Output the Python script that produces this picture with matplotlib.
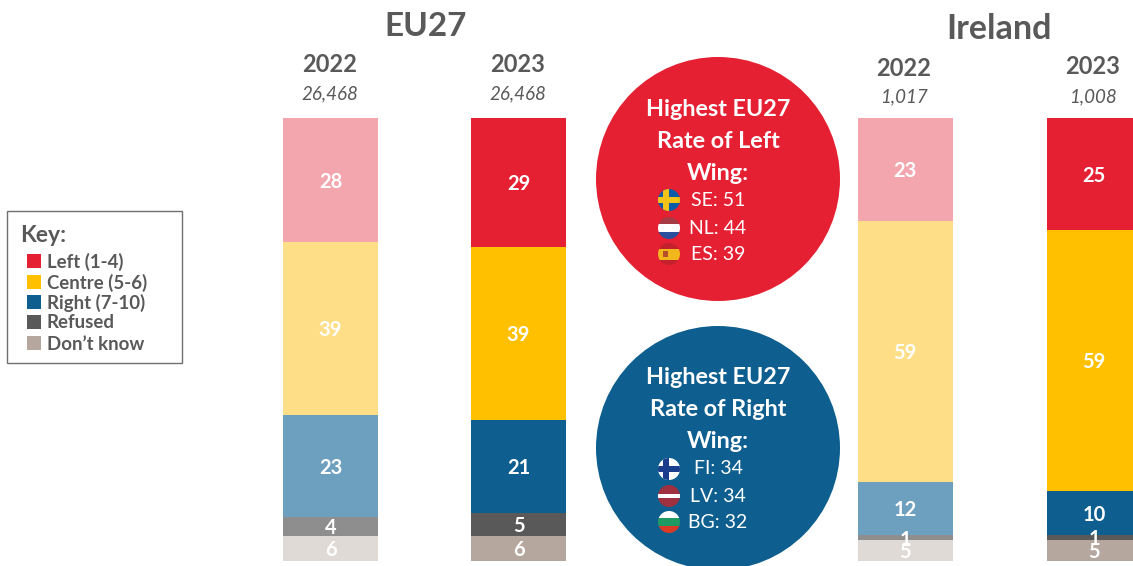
import matplotlib
matplotlib.use('Agg')
from matplotlib import pyplot as plt
from matplotlib.patches import Circle, Rectangle

plt.rcParams['font.family'] = ['Lato', 'DejaVu Sans']

## Data (labels show the rounded value)
groups = ['2022', '2023', '2022', '2023']
bases = ['26,468', '26,468', '1,017', '1,008']
categories = ['Left (1-4)', 'Centre (5-6)', 'Right (7-10)', 'Refused', 'Don\u2019t know']
left = [28.0, 29.1, 23.3, 25.3]
centre = [39.0, 39.0, 58.9, 58.9]
right = [23.0, 21.0, 12.0, 9.9]
refused = [4.4, 5.2, 1.1, 1.1]
dont_know = [5.6, 5.7, 4.7, 4.8]
left_top = ['SE: 51', 'NL: 44', 'ES: 39']
right_top = ['FI: 34', 'LV: 34', 'BG: 32']

solid = ['#E52032', '#FFC000', '#0E5F8F', '#595959', '#B5A69E']
pale = ['#F4A6AE', '#FEDE86', '#6D9FBF', '#8E8E8E', '#DFDAD6']
grey = '#595959'

W, H = 1133, 566
fig = plt.figure(figsize=(W / 100, H / 100), dpi=100)

# overlay in pixel coords for the circles, key and headings
ov = fig.add_axes([0, 0, 1, 1])
ov.set_xlim(0, W)
ov.set_ylim(H, 0)
ov.axis('off')

# bar axes, 0-100 between y=118 and y=561
ax = fig.add_axes([0, (H - 561) / H, 1, 443 / H])
ax.set_xlim(0, W)
ax.set_ylim(100, 0)
ax.axis('off')
ax.patch.set_alpha(0)

## Stacked bars
bar_x = [330.5, 518.5, 905, 1094]
series = [left, centre, right, refused, dont_know]
for i, x in enumerate(bar_x):
    bottom = 0
    colours = pale if i % 2 == 0 else solid
    for s, vals in enumerate(series):
        ax.bar(x, vals[i], 95, bottom=bottom, color=colours[s], linewidth=0)
        ax.text(x, bottom + vals[i] / 2 + 0.4, f'{vals[i]:.0f}', color='white', fontsize=14.5,
                fontweight='bold', ha='center', va='center')
        bottom += vals[i]

## Headings
ov.text(426, 27, 'EU27', color=grey, fontsize=24, fontweight='bold', ha='center', va='center')
ov.text(999, 29, 'Ireland', color=grey, fontsize=24.5, fontweight='bold', ha='center', va='center')
year_y = [64, 65, 68, 67]
base_y = [94, 94, 97, 97]
for i, x in enumerate(bar_x):
    ov.text(x - 1, year_y[i], groups[i], color=grey, fontsize=17, fontweight='bold', ha='center', va='center')
    ov.text(x - 1, base_y[i], bases[i], color=grey, fontsize=13.5, fontstyle='italic', ha='center', va='center')

## Key
ov.add_patch(Rectangle((7, 211), 175, 152, facecolor='white', edgecolor='#6F6F6F', linewidth=1))
ov.text(20, 236, 'Key:', color=grey, fontsize=16.5, fontweight='bold', ha='left', va='center')
key_y = [262, 283, 303, 323, 344]
for lab, c, y in zip(categories, solid, key_y):
    ov.add_patch(Rectangle((27, y - 8), 14, 14, facecolor=c, edgecolor='none'))
    ov.text(47, y, lab, color=grey, fontsize=13.4, fontweight='bold', ha='left', va='center')


def flag(cx, cy, stripes=None, cross=None):
    # round flag: stripes clipped to a circle
    r = 11
    clip = Circle((cx, cy), r, transform=ov.transData)
    parts = []
    if stripes:
        y = cy - r
        for c, frac in stripes:
            parts.append(Rectangle((cx - r, y), 2 * r, 2 * r * frac, facecolor=c, edgecolor='none', zorder=4))
            y += 2 * r * frac
    if cross:
        bg, fg = cross
        parts.append(Rectangle((cx - r, cy - r), 2 * r, 2 * r, facecolor=bg, edgecolor='none', zorder=4))
        parts.append(Rectangle((cx - 6, cy - r), 5.5, 2 * r, facecolor=fg, edgecolor='none', zorder=5))
        parts.append(Rectangle((cx - r, cy - 2.7), 2 * r, 5.5, facecolor=fg, edgecolor='none', zorder=5))
    for p in parts:
        ov.add_patch(p)
        p.set_clip_path(clip)


## Circles
ov.add_patch(Circle((718, 179), 122, facecolor=solid[0], edgecolor='none', zorder=2))
ov.add_patch(Circle((718, 448), 122, facecolor=solid[2], edgecolor='none', zorder=2))
for txt, y in zip(['Highest EU27', 'Rate of Left', 'Wing:'], [110, 142, 173]):
    ov.text(718, y, txt, color='white', fontsize=16.8, fontweight='bold', ha='center', va='center', zorder=6)
for txt, y in zip(['Highest EU27', 'Rate of Right', 'Wing:'], [378, 410, 442]):
    ov.text(718, y, txt, color='white', fontsize=16.8, fontweight='bold', ha='center', va='center', zorder=6)

for txt, y in zip(left_top, [201, 228, 255]):
    ov.text(718, y, txt, color='white', fontsize=14, ha='center', va='center', zorder=6)
for txt, y in zip(right_top, [469, 496, 523]):
    ov.text(718, y, txt, color='white', fontsize=14, ha='center', va='center', zorder=6)

flag(669, 200, cross=('#0B5CA8', '#F2C417'))
flag(669, 228, stripes=[('#A63A45', 1 / 3), ('#FFFFFF', 1 / 3), ('#2A4F9C', 1 / 3)])
flag(669, 254, stripes=[('#C4202E', 0.25), ('#F2B71C', 0.5), ('#C4202E', 0.25)])
ov.add_patch(Rectangle((663, 251), 5, 6, facecolor='#B5502A', edgecolor='none', zorder=5))
flag(669, 469, cross=('#FFFFFF', '#1A3E8C'))
flag(669, 496, stripes=[('#9E3040', 0.4), ('#FFFFFF', 0.2), ('#9E3040', 0.4)])
flag(669, 522, stripes=[('#FFFFFF', 1 / 3), ('#1F9A63', 1 / 3), ('#D93A26', 1 / 3)])

fig.savefig('out.png', dpi=100)
